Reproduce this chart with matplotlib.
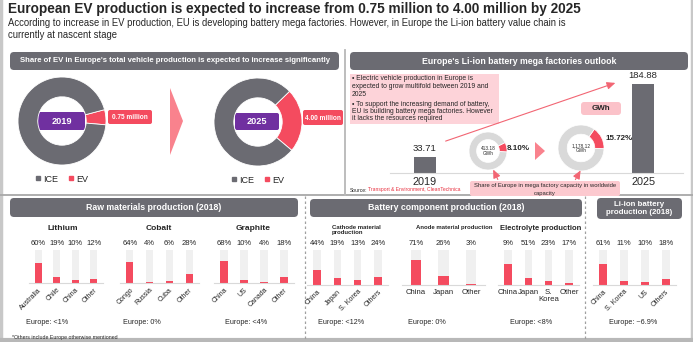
import matplotlib
matplotlib.use('Agg')
import matplotlib.pyplot as plt
from matplotlib.patches import FancyBboxPatch, Polygon
from matplotlib.lines import Line2D

plt.rcParams['font.family'] = ['Liberation Sans', 'DejaVu Sans']

W, H = 693, 342

# ---------------- data ----------------
donut_years = ['2019', '2025']
ev_production = [0.75, 4.00]        # million vehicles
ice_production = [12.8, 13.1]       # million vehicles (read from ring share)
ev_labels = ['0.75 million', '4.00 million']

mega_years = ['2019', '2025']
mega_capacity_europe = [33.71, 184.88]   # GWh
world_capacity_labels = ['413.18\nGWh', '1,178.12\nGWh']
europe_share = [8.10, 15.72]             # % of worldwide capacity

lithium_countries = ['Australia', 'Chile', 'China', 'Other']
lithium_share = [60, 19, 10, 12]
cobalt_countries = ['Congo', 'Russia', 'Cuba', 'Other']
cobalt_share = [64, 4, 6, 28]
graphite_countries = ['China', 'US', 'Canada', 'Other']
graphite_share = [68, 10, 4, 18]

cathode_countries = ['China', 'Japan', 'S. Korea', 'Others']
cathode_share = [44, 19, 13, 24]
anode_countries = ['China', 'Japan', 'Other']
anode_share = [71, 26, 3]
electrolyte_countries = ['China', 'Japan', 'S.\nKorea', 'Other']
electrolyte_labels = ['9%', '51%', '23%', '17%']
electrolyte_bars = [61, 19, 12, 5]

liion_countries = ['China', 'S. Korea', 'US', 'Others']
liion_share = [61, 11, 10, 18]

# ---------------- style ----------------
RED = '#f44b5f'
DGRAY = '#6b6b72'
PURPLE = '#7030a0'
PINK = '#fdd3d9'
LIGHT = '#f0f0f0'
TXT = '#262626'

fig = plt.figure(figsize=(W / 100, H / 100), dpi=100)
bg = fig.add_axes([0, 0, 1, 1], zorder=0)
bg.set_xlim(0, W); bg.set_ylim(H, 0); bg.axis('off')


def px_axes(x0, y0, x1, y1, z=1):
    ax = fig.add_axes([x0 / W, 1 - y1 / H, (x1 - x0) / W, (y1 - y0) / H], zorder=z)
    ax.set_facecolor('none')
    return ax


def rbox(ax, x0, y0, x1, y1, color, r=3, z=1):
    ax.add_patch(FancyBboxPatch((x0, y0), x1 - x0, y1 - y0,
                                boxstyle=f'round,pad=0,rounding_size={r}',
                                fc=color, ec='none', zorder=z))


def header(x0, y0, x1, y1, text, fs):
    rbox(bg, x0, y0, x1, y1, DGRAY, r=4)
    bg.text((x0 + x1) / 2, (y0 + y1) / 2, text, color='white', fontweight='bold',
            fontsize=fs, ha='center', va='center', linespacing=1.05)


# ---------------- frame & titles ----------------
bg.plot([1, 1], [0, H], color='#c8c8c8', lw=2.5)
bg.plot([W - 1.5, W - 1.5], [0, H], color='#c8c8c8', lw=2.5)
bg.plot([0, W], [H - 2, H - 2], color='#b8b8b8', lw=3)
bg.plot([0, W], [195, 195], color='#a8a8a8', lw=1.3)
bg.plot([345, 345], [50, 195], color='#b8b8b8', lw=1.3)
bg.plot([305, 305], [196, H - 3], color='#a0a0a0', lw=0.9, ls=(0, (2, 2)))
bg.plot([585, 585], [196, H - 3], color='#a0a0a0', lw=0.9, ls=(0, (2, 2)))

bg.text(8, 13, 'European EV production is expected to increase from 0.75 million to 4.00 million by 2025',
        fontsize=9.8, fontweight='bold', color=TXT, va='baseline', ha='left')
bg.text(8, 25.5, 'According to increase in EV production, EU is developing battery mega factories. '
        'However, in Europe the Li-ion battery value chain is',
        fontsize=6.85, color=TXT, va='baseline', ha='left')
bg.text(8, 38.5, 'currently at nascent stage', fontsize=6.85, color=TXT, va='baseline', ha='left')

header(10, 52, 339, 70, "Share of EV in Europe's total vehicle production is expected to increase significantly", 5.6)
header(350, 52, 688, 70, "Europe's Li-ion battery mega factories outlook", 6.3)
header(10, 198, 298, 217, 'Raw materials production (2018)', 6.3)
header(310, 199, 582, 217, 'Battery component production (2018)', 6.3)
header(597, 198, 682, 219, 'Li-ion battery\nproduction (2018)', 5.7)

# ---------------- big donuts ----------------
donut_boxes = [(18, 77, 106, 165), (214, 78, 302, 166)]
starts = [-5, -40]
purple_boxes = [(38, 112, 85, 130), (235, 113, 279, 130)]
red_boxes = [(108, 110, 152, 124), (303, 110, 343, 125)]
for i in range(2):
    ax = px_axes(*donut_boxes[i])
    ax.pie([ev_production[i], ice_production[i]], colors=[RED, DGRAY], startangle=starts[i],
           counterclock=True, radius=1,
           wedgeprops=dict(width=0.45, edgecolor='white', linewidth=0.6))
    ax.set_xlim(-1, 1); ax.set_ylim(-1, 1)
    handles = [Line2D([], [], marker='s', ls='', color=DGRAY, ms=2.2),
               Line2D([], [], marker='s', ls='', color=RED, ms=2.2)]
    ax.legend(handles, ['ICE', 'EV'], ncol=2, loc='center', bbox_to_anchor=(0.5, -0.16),
              frameon=False, fontsize=6.5, handlelength=0.5, handletextpad=0.35,
              columnspacing=1.1, labelcolor=TXT)
    x0, y0, x1, y1 = purple_boxes[i]
    rbox(bg, x0, y0, x1, y1, PURPLE, r=2, z=3)
    bg.text((x0 + x1) / 2, (y0 + y1) / 2 + 0.5, donut_years[i], color='white', fontweight='bold',
            fontsize=6.6, ha='center', va='center', zorder=4)
    x0, y0, x1, y1 = red_boxes[i]
    rbox(bg, x0, y0, x1, y1, RED, r=2, z=3)
    bg.text((x0 + x1) / 2, (y0 + y1) / 2 + 0.5, ev_labels[i], color='white', fontweight='bold',
            fontsize=4.7, ha='center', va='center', zorder=4)

bg.add_patch(Polygon([(170, 88), (183, 121), (170, 155)], closed=True, fc='#f9828d', ec='none'))

# ---------------- mega factories panel ----------------
rbox(bg, 350, 74, 499, 124, PINK, r=0)
pink_lines = ['\u2022 Electric vehicle production in Europe is',
              'expected to grow multifold between 2019 and',
              '2025',
              '\u2022 To support the increasing demand of battery,',
              'EU is building battery mega factories. However',
              'it lacks the resources required']
ys = [79, 87, 94.5, 104, 111.5, 119]
for t, y in zip(pink_lines, ys):
    bg.text(352, y, t, fontsize=4.85, color=TXT, va='center', ha='left')

axb = px_axes(390, 60, 683, 173)
pos = [0, 1]
axb.bar(pos, mega_capacity_europe, width=0.1, color=DGRAY)
axb.set_xlim(-0.16, 1.183)
axb.set_ylim(0, 235)
for p, v in zip(pos, mega_capacity_europe):
    axb.annotate(f'{v:.2f}', (p, v), xytext=(0, 3), textcoords='offset points',
                 ha='center', va='bottom', fontsize=6.8, color=TXT)
axb.set_xticks(pos)
axb.set_xticklabels(mega_years, fontsize=7.8, color=TXT)
axb.tick_params(length=0, pad=3)
axb.set_yticks([])
for s in ['top', 'left', 'right']:
    axb.spines[s].set_visible(False)
axb.spines['bottom'].set_color('#d9d9d9')

small_donuts = [(469, 132, 507, 170), (558, 125, 604, 171)]
sd_start = [-3, -2]
for i in range(2):
    ax = px_axes(*small_donuts[i], z=2)
    ax.pie([europe_share[i], 100 - europe_share[i]], colors=[RED, '#d9d9d9'],
           startangle=sd_start[i], counterclock=True,
           wedgeprops=dict(width=0.4, edgecolor='white', linewidth=0.5))
    ax.set_xlim(-1, 1); ax.set_ylim(-1, 1)
    ax.text(0, 0, world_capacity_labels[i], fontsize=3.4, ha='center', va='center', color=TXT,
            linespacing=1.1)
bg.text(518, 149, f'{europe_share[0]:.2f}%', fontsize=5.8, fontweight='bold', color=TXT,
        ha='center', va='center', zorder=3)
bg.text(619, 138, f'{europe_share[1]:.2f}%', fontsize=5.8, fontweight='bold', color=TXT,
        ha='center', va='center', zorder=3)
bg.add_patch(Polygon([(535, 142), (545, 151), (535, 160)], closed=True, fc='#f9828d', ec='none'))

rbox(bg, 581, 102, 621, 115, '#fbc2c9', r=3)
bg.text(601, 108.5, 'GWh', fontsize=5.8, fontweight='bold', color=TXT, ha='center', va='center')

rbox(bg, 470, 181, 620, 196, '#fcc9cf', r=2, z=2)
bg.text(545, 185.5, 'Share of Europe in mega factory capacity in worldwide', fontsize=4.2,
        color=TXT, ha='center', va='center', zorder=3)
bg.text(545, 193, 'capacity', fontsize=4.2, color=TXT, ha='center', va='center', zorder=3)

bg.text(350, 190, 'Source:', fontsize=3.6, color=TXT, ha='left', va='center')
bg.text(368, 190, 'Transport & Environment, CleanTechnica', fontsize=3.6, color='#e8303f',
        ha='left', va='center')

fg = fig.add_axes([0, 0, 1, 1], zorder=10)
fg.set_facecolor('none'); fg.set_xlim(0, W); fg.set_ylim(H, 0); fg.axis('off')
arrow_kw = dict(arrowstyle='-|>,head_length=0.5,head_width=0.22', color='#f26573', lw=0.8)
fg.annotate('', xy=(618, 82), xytext=(443, 142), arrowprops=arrow_kw)
fg.annotate('', xy=(492, 167), xytext=(499, 182), arrowprops=arrow_kw)
fg.annotate('', xy=(582, 168), xytext=(574, 182), arrowprops=arrow_kw)

# ---------------- bottom small bar charts ----------------
def small_bars(box, cats, vals, labels, width, rot, fs_cat=5.0):
    ax = px_axes(*box)
    n = len(cats)
    x = list(range(n))
    ax.bar(x, [100] * n, width=width, color=LIGHT, zorder=1)
    ax.bar(x, vals, width=width, color=RED, zorder=2)
    ax.set_xlim(-0.5, n - 0.5)
    ax.set_ylim(0, 100)
    for i, lab in enumerate(labels):
        ax.annotate(lab, (i, 100), xytext=(0, 2.5), textcoords='offset points',
                    ha='center', va='bottom', fontsize=5.5, color=TXT)
    ax.set_xticks(x)
    if rot:
        ax.set_xticklabels(cats, rotation=45, ha='right', rotation_mode='anchor',
                           fontsize=fs_cat, color=TXT)
        ax.tick_params(length=0, pad=2.5)
    else:
        ax.set_xticklabels(cats, fontsize=5.6, color=TXT, linespacing=1.0)
        ax.tick_params(length=0, pad=3)
    ax.set_yticks([])
    for s in ['top', 'left', 'right']:
        ax.spines[s].set_visible(False)
    ax.spines['bottom'].set_color('#d9d9d9')
    ax.spines['bottom'].set_linewidth(0.8)
    return ax


pct = lambda v: [f'{x}%' for x in v]
small_bars((29, 250, 103, 283), lithium_countries, lithium_share, pct(lithium_share), 0.38, True)
small_bars((120, 250, 199, 283), cobalt_countries, cobalt_share, pct(cobalt_share), 0.36, True)
small_bars((214, 250, 294, 283), graphite_countries, graphite_share, pct(graphite_share), 0.36, True)
small_bars((307, 250, 388, 285), cathode_countries, cathode_share, pct(cathode_share), 0.38, True)
small_bars((402, 250, 485, 285), anode_countries, anode_share, pct(anode_share), 0.38, False)
small_bars((498, 250, 579, 285), electrolyte_countries, electrolyte_bars, electrolyte_labels, 0.38, False)
small_bars((593, 250, 676, 285), liion_countries, liion_share, pct(liion_share), 0.38, True)

for t, x in [('Lithium', 63), ('Cobalt', 159), ('Graphite', 253)]:
    bg.text(x, 229, t, fontsize=6.0, fontweight='bold', color=TXT, ha='center', va='center')
bg.text(332, 230, 'Cathode material\nproduction', fontsize=4.3, fontweight='bold', color=TXT,
        ha='left', va='center', linespacing=1.0)
bg.text(454, 228, 'Anode material production', fontsize=4.3, fontweight='bold', color=TXT,
        ha='center', va='center')
bg.text(541, 229, 'Electrolyte production', fontsize=5.5, fontweight='bold', color=TXT,
        ha='center', va='center')

for t, x in [('Europe: <1%', 26), ('Europe: 0%', 123), ('Europe: <4%', 225),
             ('Europe: <12%', 318), ('Europe: 0%', 408), ('Europe: <8%', 510),
             ('Europe: ~6.9%', 609)]:
    bg.text(x, 322, t, fontsize=5.2, color=TXT, ha='left', va='center')

bg.text(12, 337, '*Others include Europe otherwise mentioned', fontsize=3.8, color=TXT,
        ha='left', va='center')

fig.savefig('out.png', dpi=100)
